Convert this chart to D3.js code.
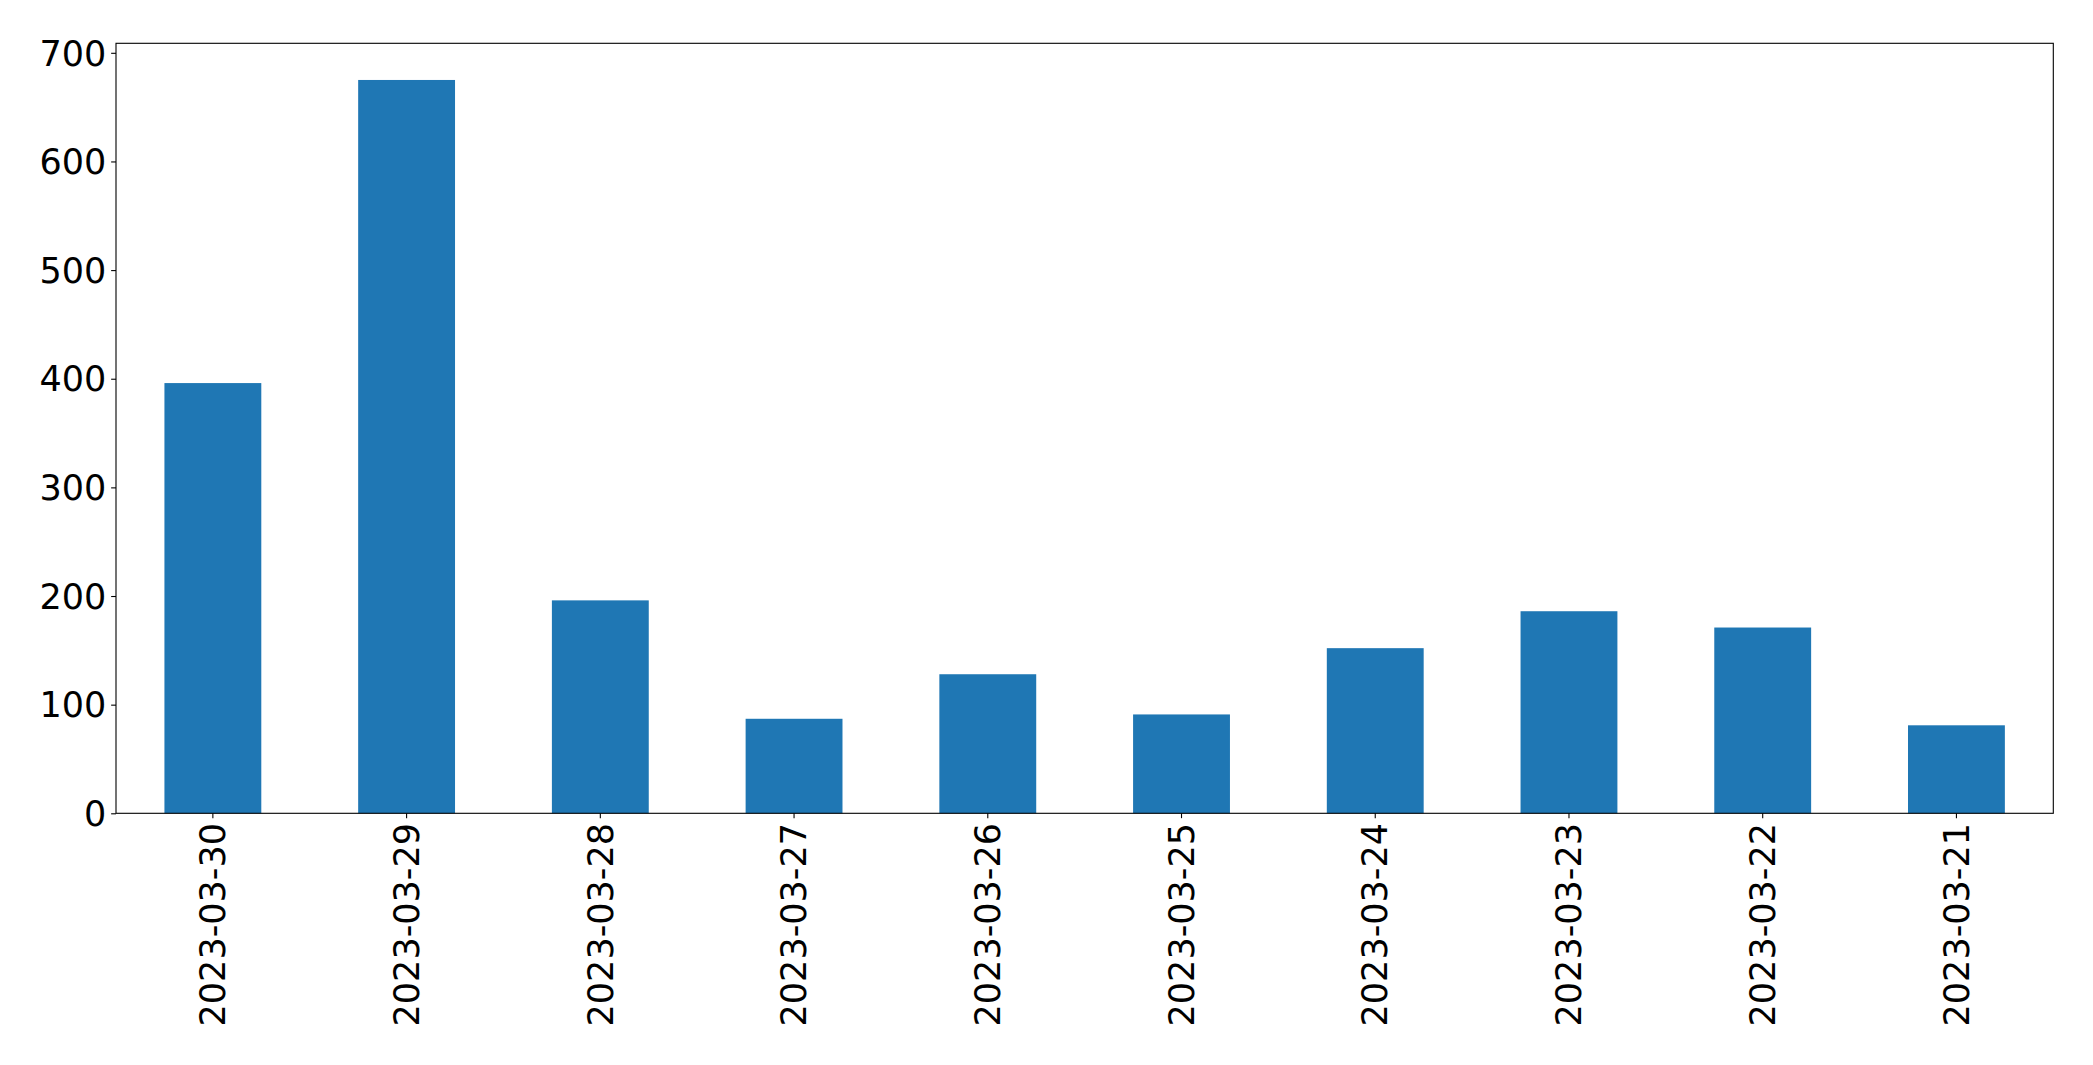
<!DOCTYPE html>
<html>
<head>
<meta charset="utf-8">
<script src="https://cdn.jsdelivr.net/npm/d3@7"></script>
<style>
  html, body { margin: 0; padding: 0; background: #fff; }
  svg { display: block; }
  .tick text { font-family: "DejaVu Sans", sans-serif; font-size: 35px; fill: #000; }
</style>
</head>
<body>
<svg id="chart" width="2093" height="1065"></svg>
<script>
const categories = ["2023-03-30","2023-03-29","2023-03-28","2023-03-27","2023-03-26","2023-03-25","2023-03-24","2023-03-23","2023-03-22","2023-03-21"];
const values = [396, 675, 196, 87, 128, 91, 152, 186, 171, 81];
const yTicks = [0, 100, 200, 300, 400, 500, 600, 700];

const W = 2093, H = 1065;
const m = { left: 116, top: 43.3, right: W - 2053.3, bottom: H - 813.3 };
const svg = d3.select("#chart");

const x = d3.scaleBand()
  .domain(categories)
  .range([m.left, W - m.right])
  .paddingInner(0.5)
  .paddingOuter(0.25);

const y = d3.scaleLinear()
  .domain([0, d3.max(values) * 1.05])
  .range([H - m.bottom, m.top]);

svg.append("g")
  .selectAll("rect")
  .data(values)
  .join("rect")
  .attr("x", (d, i) => x(categories[i]))
  .attr("width", x.bandwidth())
  .attr("y", d => y(d))
  .attr("height", d => y(0) - y(d))
  .attr("fill", "#1f77b4");

const tickLen = 4.86, pad = 4.86;

const yAxis = svg.append("g")
  .attr("transform", `translate(${m.left},0)`)
  .call(d3.axisLeft(y).tickValues(yTicks).tickSize(tickLen).tickPadding(pad).tickSizeOuter(0));
yAxis.select(".domain").remove();
yAxis.selectAll(".tick line").attr("stroke", "#000").attr("stroke-width", 1.1);
yAxis.selectAll(".tick text").attr("dy", "0.35em");

const xAxis = svg.append("g")
  .attr("transform", `translate(0,${H - m.bottom})`)
  .call(d3.axisBottom(x).tickSize(tickLen).tickPadding(pad).tickSizeOuter(0));
xAxis.select(".domain").remove();
xAxis.selectAll(".tick line").attr("stroke", "#000").attr("stroke-width", 1.1);
xAxis.selectAll(".tick text")
  .attr("text-anchor", "end")
  .attr("transform", `rotate(-90)`)
  .attr("x", -(tickLen + pad))
  .attr("y", 0)
  .attr("dy", "0.35em");

svg.append("rect")
  .attr("x", m.left)
  .attr("y", m.top)
  .attr("width", W - m.left - m.right)
  .attr("height", H - m.top - m.bottom)
  .attr("fill", "none")
  .attr("stroke", "#000")
  .attr("stroke-width", 1.1);
</script>
</body>
</html>
